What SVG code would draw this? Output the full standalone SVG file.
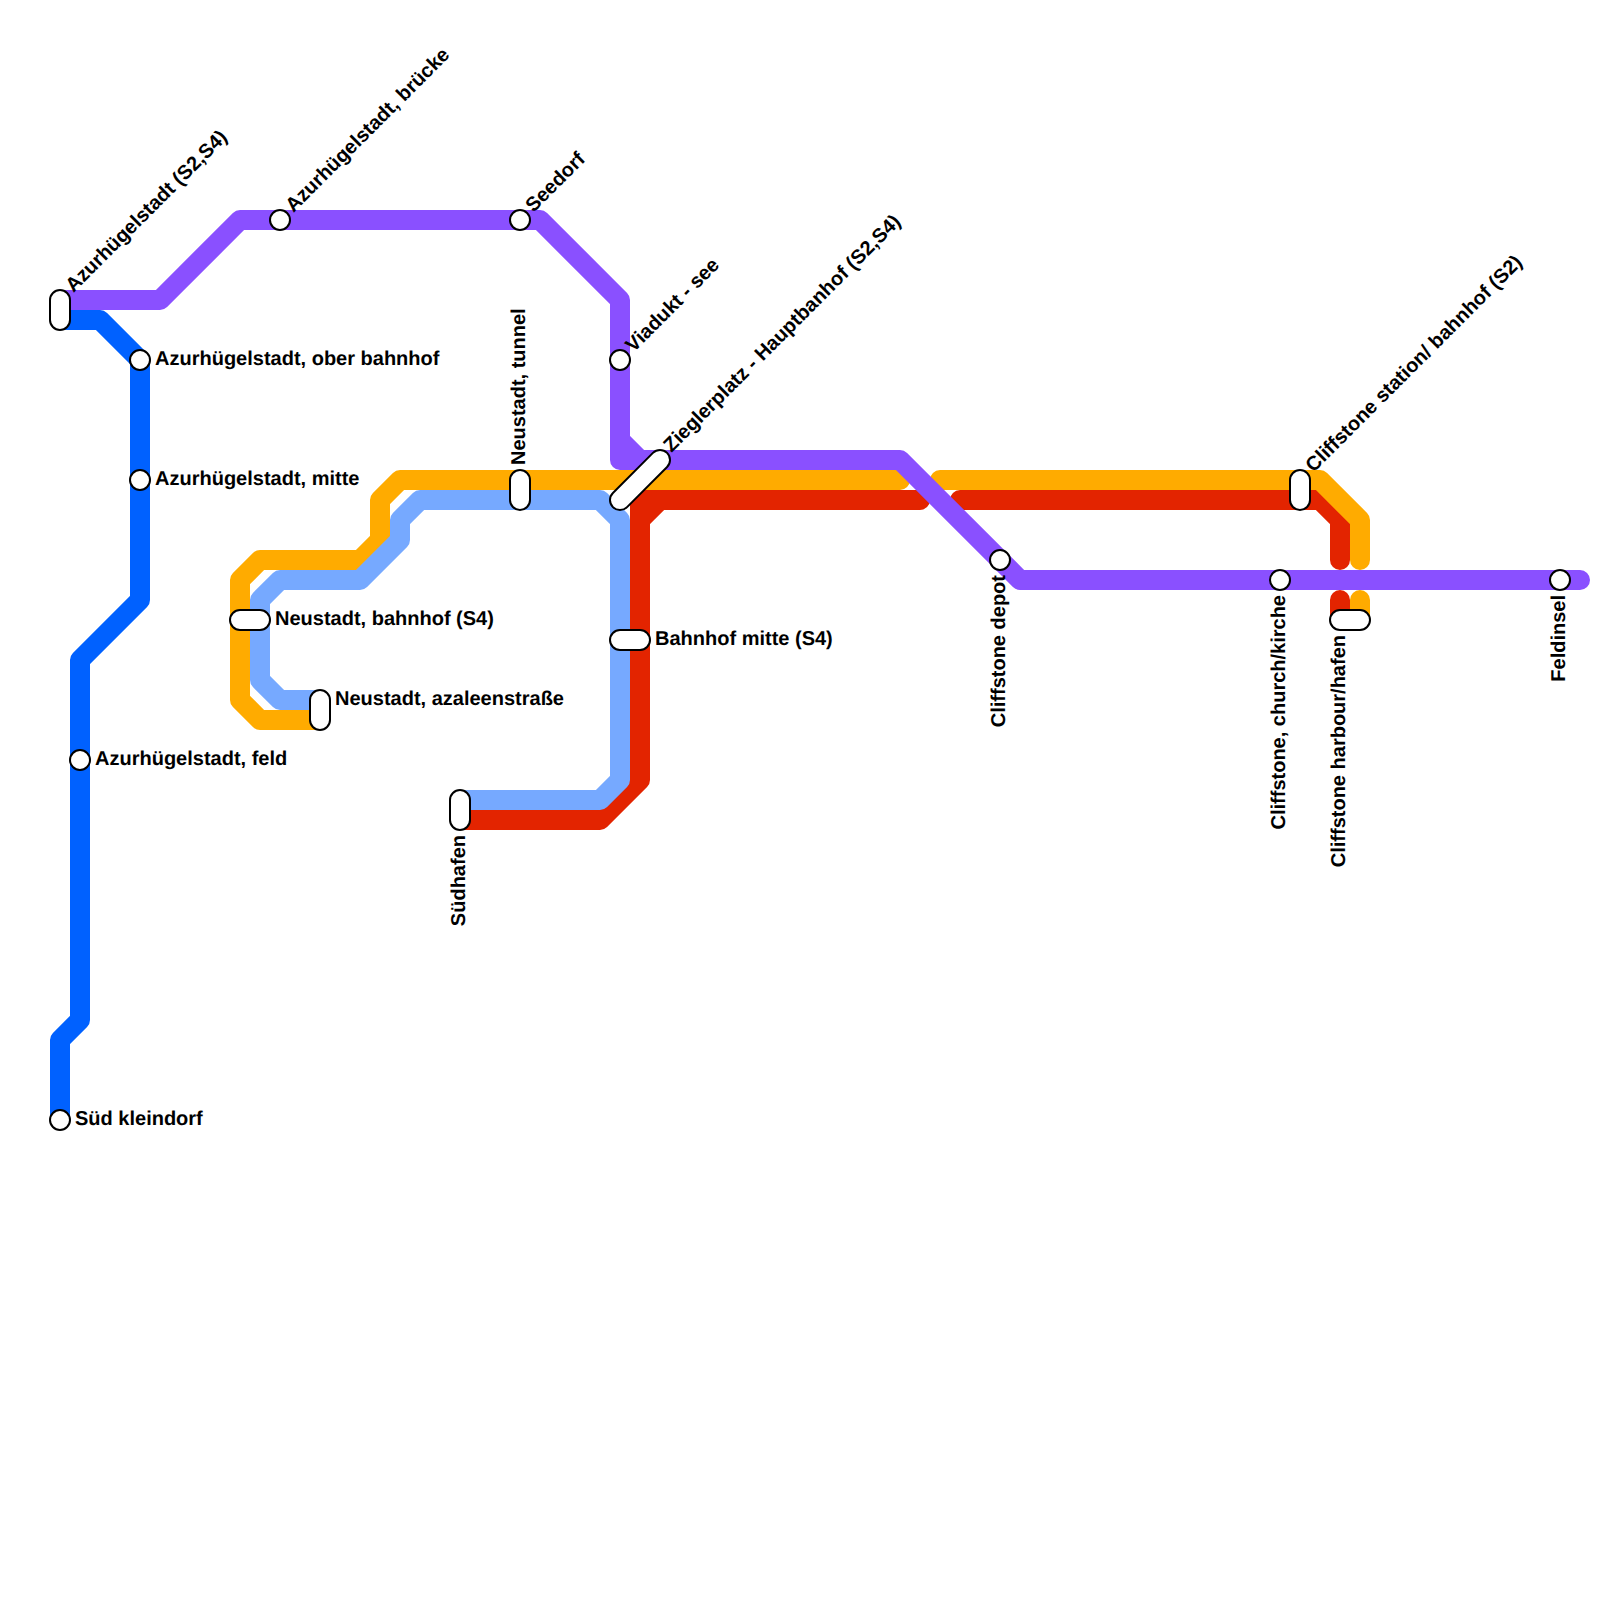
<svg xmlns="http://www.w3.org/2000/svg" width="1600" height="1600" viewBox="0 0 1600 1600">
<style>
.l{fill:none;stroke-width:20;stroke-linejoin:round;stroke-linecap:round}
.s{fill:#fff;stroke:#000;stroke-width:2}
text{font-family:"Liberation Sans",Arial,sans-serif;font-size:20px;font-weight:700;fill:#000;text-rendering:geometricPrecision}
.e{text-anchor:end}
</style>
<rect width="1600" height="1600" fill="#fff"/>
<g id="connectors">
<path class="l" stroke="#0061ff" d="M60 320H100L140 360V600L80 660V1020L60 1040V1120"/>
<path class="l" stroke="#e32400" d="M460 820H600L640 780V520L660 500H920M640 520V500H660"/>
<path class="l" stroke="#e32400" d="M960 500H1320L1340 520V560M1340 600V620"/>
<path class="l" stroke="#ffab00" d="M320 720H260L240 700V580L260 560H360L380 540V500L400 480H900"/>
<path class="l" stroke="#ffab00" d="M940 480H1320L1360 520V560M1360 600V620"/>
<path class="l" stroke="#76a9ff" d="M320 700H280L260 680V600L280 580H360L400 540V520L420 500H600L620 520V780L600 800H460"/>
<path class="l" stroke="#8a50ff" d="M60 300H160L240 220H540L620 300V460H900L1020 580H1580M620 440L640 460"/>
</g>
<g id="st-azur"><rect class="s" x="50" y="290" width="20" height="40" rx="10"/><text transform="translate(73.5 293) rotate(-45)">Azurhügelstadt (S2,S4)</text></g>
<g id="st-ober"><circle class="s" cx="140" cy="360" r="10"/><text x="155" y="365">Azurhügelstadt, ober bahnhof</text></g>
<g id="st-mitte"><circle class="s" cx="140" cy="480" r="10"/><text x="155" y="485">Azurhügelstadt, mitte</text></g>
<g id="st-feld"><circle class="s" cx="80" cy="760" r="10"/><text x="95" y="765">Azurhügelstadt, feld</text></g>
<g id="st-sued"><circle class="s" cx="60" cy="1120" r="10"/><text x="75" y="1125">Süd kleindorf</text></g>
<g id="st-nbf"><rect class="s" x="230" y="610" width="40" height="20" rx="10"/><text x="275" y="625">Neustadt, bahnhof (S4)</text></g>
<g id="st-naz"><rect class="s" x="310" y="690" width="20" height="40" rx="10"/><text x="335" y="705">Neustadt, azaleenstraße</text></g>
<g id="st-bruecke"><circle class="s" cx="280" cy="220" r="10"/><text transform="translate(293.5 213) rotate(-45)">Azurhügelstadt, brücke</text></g>
<g id="st-seedorf"><circle class="s" cx="520" cy="220" r="10"/><text transform="translate(533.5 213) rotate(-45)">Seedorf</text></g>
<g id="st-viadukt"><circle class="s" cx="620" cy="360" r="10"/><text transform="translate(633.5 353) rotate(-45)">Viadukt - see</text></g>
<g id="st-tunnel"><rect class="s" x="510" y="470" width="20" height="40" rx="10"/><text transform="translate(525 465) rotate(-90)">Neustadt, tunnel</text></g>
<g id="st-zieg"><rect class="s" x="601.7" y="470" width="76.6" height="20" rx="10" transform="rotate(-45 640 480)"/><text transform="translate(671.5 453) rotate(-45)">Zieglerplatz - Hauptbanhof (S2,S4)</text></g>
<g id="st-bhf"><rect class="s" x="610" y="630" width="40" height="20" rx="10"/><text x="655" y="645">Bahnhof mitte (S4)</text></g>
<g id="st-suedhafen"><rect class="s" x="450" y="790" width="20" height="40" rx="10"/><text class="e" transform="translate(465 835) rotate(-90)">Südhafen</text></g>
<g id="st-depot"><circle class="s" cx="1000" cy="560" r="10"/><text class="e" transform="translate(1005 575) rotate(-90)">Cliffstone depot</text></g>
<g id="st-church"><circle class="s" cx="1280" cy="580" r="10"/><text class="e" transform="translate(1285 595) rotate(-90)">Cliffstone, church/kirche</text></g>
<g id="st-station"><rect class="s" x="1290" y="470" width="20" height="40" rx="10"/><text transform="translate(1313.5 473) rotate(-45)">Cliffstone station/ bahnhof (S2)</text></g>
<g id="st-harbour"><rect class="s" x="1330" y="610" width="40" height="20" rx="10"/><text class="e" transform="translate(1345 635) rotate(-90)">Cliffstone harbour/hafen</text></g>
<g id="st-feldinsel"><circle class="s" cx="1560" cy="580" r="10"/><text class="e" transform="translate(1565 595) rotate(-90)">Feldinsel</text></g>
</svg>
